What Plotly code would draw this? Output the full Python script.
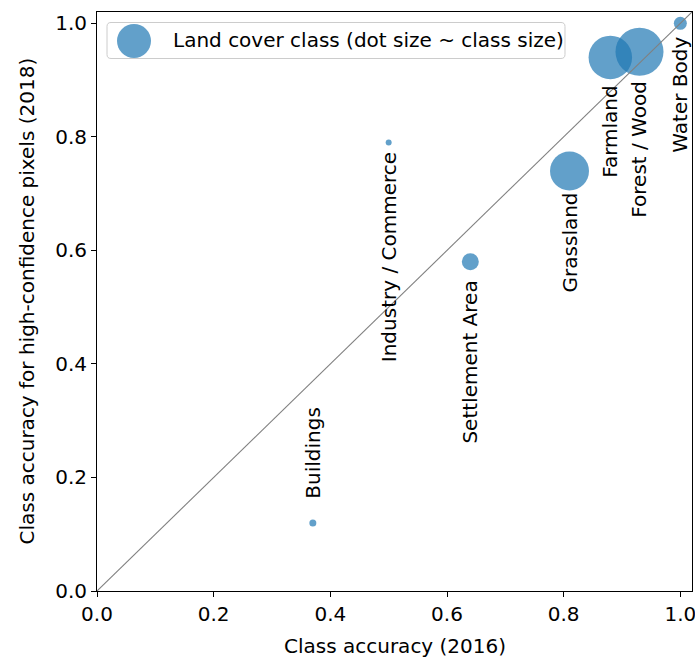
import math
import plotly.graph_objects as go

# Land cover classes: accuracy in 2016 vs accuracy on high-confidence pixels in 2018
classes = ["Buildings", "Industry / Commerce", "Settlement Area", "Grassland",
           "Farmland", "Forest / Wood", "Water Body"]
acc_2016 = [0.37, 0.50, 0.64, 0.81, 0.88, 0.93, 1.00]
acc_2018_high_conf = [0.12, 0.79, 0.58, 0.74, 0.94, 0.95, 1.00]
class_size = [49, 36, 289, 1521, 1892, 2304, 169]  # relative size (dot area)

tick_vals = [0.0, 0.2, 0.4, 0.6, 0.8, 1.0]
axis_max = 1.02

FONT = "DejaVu Sans"
FS = 20
DOT = "#1f77b4"
DOT_ALPHA = 0.7

# figure / plot-area geometry in pixels
FIG_W, FIG_H = 695, 661
L, R, T, B = 97, 692, 12, 591
W, H = R - L, B - T


def px_x(px):
    return (px - L) / W


def px_y(py):
    return (B - py) / H


# label placement: pixels between the dot centre and the near end of its label
label_gap = {
    "Buildings": ("above", 23),
    "Industry / Commerce": ("below", 9),
    "Settlement Area": ("below", 18),
    "Grassland": ("below", 21),
    "Farmland": ("below", 27),
    "Forest / Wood": ("below", 28),
    "Water Body": ("below", 12),
}

diameters = [math.sqrt(s) for s in class_size]

fig = go.Figure()

fig.add_trace(go.Scatter(
    x=acc_2016, y=acc_2018_high_conf, mode="markers",
    marker=dict(size=diameters, sizemode="diameter", color=DOT,
                opacity=DOT_ALPHA, line=dict(width=0)),
    showlegend=False, hoverinfo="text", text=classes,
))

# y = x reference line
fig.add_trace(go.Scatter(
    x=[0, axis_max], y=[0, axis_max], mode="lines",
    line=dict(color="#808080", width=1.1), showlegend=False, hoverinfo="skip",
))

annotations = []
for name, xv, yv in zip(classes, acc_2016, acc_2018_high_conf):
    side, gap = label_gap[name]
    annotations.append(dict(
        x=xv, y=yv, xref="x", yref="y", text=name, showarrow=False,
        textangle=-90, xanchor="center",
        yanchor="bottom" if side == "above" else "top",
        yshift=gap if side == "above" else -gap,
        font=dict(family=FONT, size=FS, color="black"), borderpad=0,
    ))

# axis titles
annotations.append(dict(
    x=px_x((L + R) / 2), y=px_y(646), xref="paper", yref="paper",
    text="Class accuracy (2016)", showarrow=False, xanchor="center",
    yanchor="middle", font=dict(family=FONT, size=FS, color="black"),
))
annotations.append(dict(
    x=px_x(26), y=0.5, xref="paper", yref="paper",
    text="Class accuracy for high-confidence pixels (2018)", showarrow=False,
    textangle=-90, xanchor="center", yanchor="middle",
    font=dict(family=FONT, size=FS, color="black"),
))

# legend drawn by hand so the marker keeps its large size
bx0, by0, bx1, by1, rr = 107, 22.5, 565, 58.5, 4


def rounded_rect(x0, y0, x1, y1, r):
    pts = [
        ("M", x0 + r, y0), ("L", x1 - r, y0), ("Q", x1, y0, x1, y0 + r),
        ("L", x1, y1 - r), ("Q", x1, y1, x1 - r, y1), ("L", x0 + r, y1),
        ("Q", x0, y1, x0, y1 - r), ("L", x0, y0 + r), ("Q", x0, y0, x0 + r, y0),
    ]
    parts = []
    for p in pts:
        cmd = p[0]
        coords = p[1:]
        conv = []
        for i in range(0, len(coords), 2):
            conv.append(f"{px_x(coords[i]):.5f},{px_y(coords[i + 1]):.5f}")
        parts.append(cmd + " " + " ".join(conv))
    return " ".join(parts) + " Z"


shapes = [
    dict(type="path", xref="paper", yref="paper",
         path=rounded_rect(bx0, by0, bx1, by1, rr),
         fillcolor="rgba(255,255,255,0.8)", line=dict(color="#cccccc", width=1),
         layer="above"),
    dict(type="circle", xref="paper", yref="paper",
         x0=px_x(134 - 17), x1=px_x(134 + 17), y0=px_y(41 + 17), y1=px_y(41 - 17),
         fillcolor=DOT, opacity=DOT_ALPHA, line=dict(width=0), layer="above"),
]
annotations.append(dict(
    x=px_x(171), y=px_y(40.5), xref="paper", yref="paper",
    text="Land cover class (dot size ~ class size)", showarrow=False,
    xanchor="left", yanchor="middle",
    font=dict(family=FONT, size=FS, color="black"),
))

axis_common = dict(
    range=[0, axis_max], tickvals=tick_vals,
    ticktext=[f"{v:.1f}" for v in tick_vals],
    showgrid=False, zeroline=False, showline=True, mirror=True,
    linecolor="black", linewidth=1, ticks="outside", ticklen=5, tickwidth=1,
    tickcolor="black", tickfont=dict(family=FONT, size=FS, color="black"),
    ticklabeloverflow="allow",
)

fig.update_layout(
    width=FIG_W, height=FIG_H,
    margin=dict(l=L, r=FIG_W - R, t=T, b=FIG_H - B, autoexpand=False),
    paper_bgcolor="white", plot_bgcolor="white",
    xaxis=axis_common, yaxis=axis_common,
    annotations=annotations, shapes=shapes,
    font=dict(family=FONT, size=FS, color="black"),
)

fig.write_html("out.html")
